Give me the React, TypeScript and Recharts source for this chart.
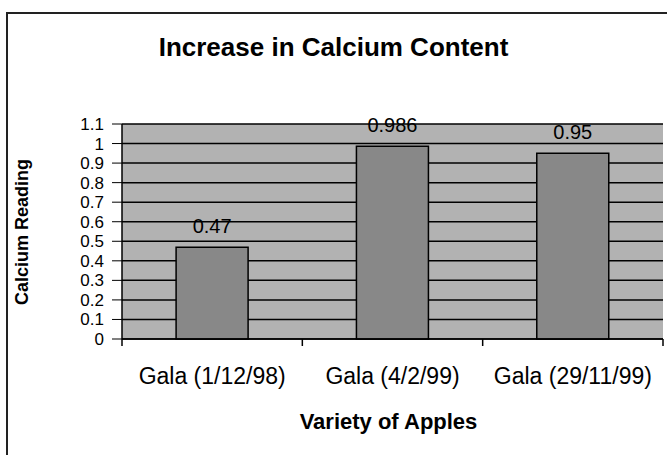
import React from 'react';
import { BarChart, Bar, XAxis, YAxis, CartesianGrid, LabelList } from 'recharts';

const varieties = ['Gala (1/12/98)', 'Gala (4/2/99)', 'Gala (29/11/99)'];
const calcium = [0.47, 0.986, 0.95];
const yTicks = [0, 0.1, 0.2, 0.3, 0.4, 0.5, 0.6, 0.7, 0.8, 0.9, 1, 1.1];

const data = varieties.map((name, i) => ({ name, value: calcium[i] }));

const font = '"Liberation Sans", Arial, sans-serif';

// category label, plus tick marks on the band boundaries (Excel style)
const XTick = (props: any) => {
  const { x, y, payload, index, visibleTicksCount } = props;
  const half = payload.offset || 0;
  const last = index === visibleTicksCount - 1;
  return (
    <g>
      <line x1={x - half} x2={x - half} y1={y} y2={y + 7} stroke="#000" strokeWidth={1.5} />
      {last && <line x1={x + half} x2={x + half} y1={y} y2={y + 7} stroke="#000" strokeWidth={1.5} />}
      <text x={x} y={y + 45} textAnchor="middle" fontFamily={font} fontSize={23} fill="#000">
        {payload.value}
      </text>
    </g>
  );
};

export default function App() {
  return (
    <div style={{ position: 'absolute', left: 0, top: 0, width: 667, height: 455, background: '#fff', overflow: 'hidden' }}>
      <div
        style={{
          position: 'absolute', left: 6, top: 12, width: 680, height: 470,
          border: '2px solid #222', boxSizing: 'border-box',
        }}
      />
      <div style={{ position: 'absolute', left: 0, width: 667, top: 30, textAlign: 'center', fontFamily: font, fontWeight: 'bold', fontSize: 26, lineHeight: '34px' }}>
        Increase in Calcium Content
      </div>
      <div style={{ position: 'absolute', left: 0, width: 667, top: 408, textAlign: 'center', fontFamily: font, fontWeight: 'bold', fontSize: 22, lineHeight: '28px', paddingLeft: 110, boxSizing: 'border-box' }}>
        Variety of Apples
      </div>
      <div
        style={{
          position: 'absolute', left: 22, top: 232, transform: 'translate(-50%, -50%) rotate(-90deg)',
          whiteSpace: 'nowrap', fontFamily: font, fontWeight: 'bold', fontSize: 18,
        }}
      >
        Calcium Reading
      </div>
      <BarChart
        width={667}
        height={455}
        data={data}
        margin={{ top: 124, right: 4, bottom: 0, left: 0 }}
        barCategoryGap="30%"
        style={{ position: 'absolute', left: 0, top: 0 }}
      >
        <CartesianGrid vertical={false} fill="#b2b2b2" stroke="#000" strokeWidth={1.5} fillOpacity={1} />
        <XAxis
          dataKey="name"
          tickLine={false}
          tickSize={0}
          tickMargin={0}
          axisLine={{ stroke: '#000', strokeWidth: 1.5 }}
          tick={<XTick />}
          interval={0}
          height={116}
        />
        <YAxis
          domain={[0, 1.1]}
          ticks={yTicks}
          interval={0}
          width={122}
          tickSize={10}
          tickMargin={8}
          stroke="#000"
          axisLine={{ stroke: '#000', strokeWidth: 1.5 }}
          tick={{ fill: '#000', fontSize: 17, fontFamily: font }}
        />
        <Bar dataKey="value" fill="#888888" stroke="#000" strokeWidth={1.5} isAnimationActive={false}>
          <LabelList dataKey="value" position="top" offset={14} fill="#000" fontSize={20} fontFamily={font} />
        </Bar>
      </BarChart>
    </div>
  );
}
